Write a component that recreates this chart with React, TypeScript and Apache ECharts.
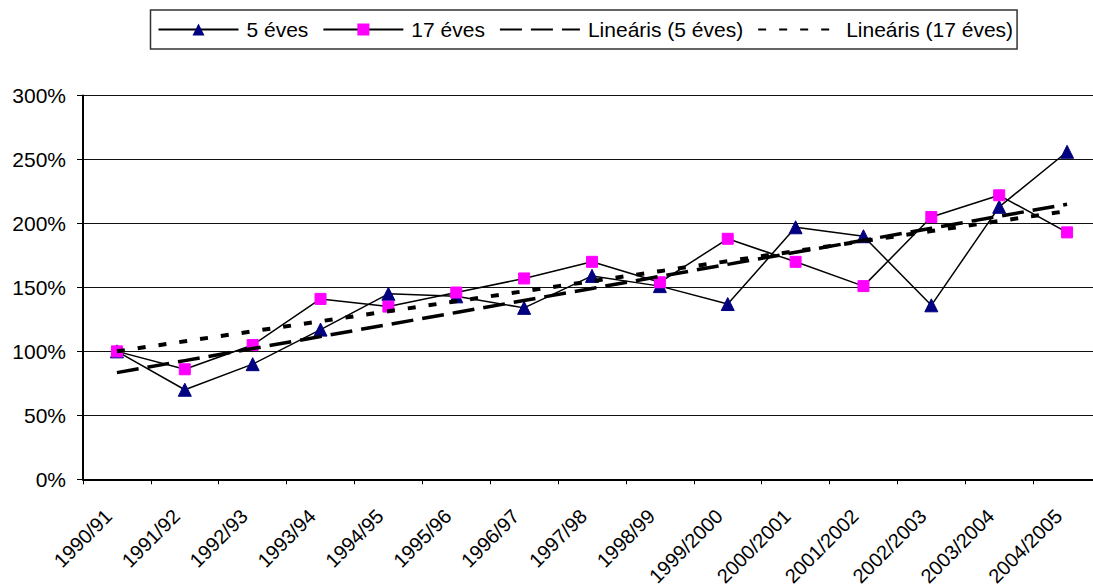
import React, { useEffect, useRef } from "react";
import * as echarts from "echarts";

// School years on the category axis
const categories = [
  "1990/91",
  "1991/92",
  "1992/93",
  "1993/94",
  "1994/95",
  "1995/96",
  "1996/97",
  "1997/98",
  "1998/99",
  "1999/2000",
  "2000/2001",
  "2001/2002",
  "2002/2003",
  "2003/2004",
  "2004/2005",
];

// Index values in percent (1990/91 = 100%)
const fiveYear = [100, 70, 90, 117, 145, 143, 134, 159, 151, 137, 197, 190, 136, 213, 256];
const seventeenYear = [100, 86, 105, 141, 135, 146, 157, 170, 154, 188, 170, 151, 205, 222, 193];

// Value axis ticks (percent)
const yTickValues = [0, 50, 100, 150, 200, 250, 300];

const seriesNames = ["5 éves", "17 éves", "Lineáris (5 éves)", "Lineáris (17 éves)"];

// Ordinary least-squares line over the category index
function linearTrend(values: number[]): number[] {
  const n = values.length;
  const meanX = (n - 1) / 2;
  const meanY = values.reduce((a, b) => a + b, 0) / n;
  let sxy = 0;
  let sxx = 0;
  values.forEach((v, i) => {
    sxy += (i - meanX) * (v - meanY);
    sxx += (i - meanX) * (i - meanX);
  });
  const slope = sxy / sxx;
  const intercept = meanY - slope * meanX;
  return values.map((_, i) => +(intercept + slope * i).toFixed(2));
}

const FONT = "'Liberation Sans', Arial, sans-serif";

export default function App() {
  const ref = useRef<HTMLDivElement>(null);

  useEffect(() => {
    if (!ref.current) return;
    const chart = echarts.init(ref.current, undefined, { renderer: "svg" });

    const option: any = {
      animation: false,
      backgroundColor: "#ffffff",
      textStyle: { fontFamily: FONT, color: "#000" },
      legend: {
        data: [
          { name: seriesNames[0] },
          { name: seriesNames[1] },
          // trend lines show only their stroke in the legend
          { name: seriesNames[2], itemStyle: { opacity: 0 } },
          { name: seriesNames[3], itemStyle: { opacity: 0 } },
        ],
        left: 150.5,
        top: 10,
        orient: "horizontal",
        itemWidth: 80,
        itemHeight: 15,
        itemGap: 14,
        padding: [9, 4, 9, 7],
        borderColor: "#333",
        borderWidth: 1.5,
        textStyle: {
          fontFamily: FONT,
          fontSize: 21,
          color: "#000",
          padding: [0, 0, 0, 3],
        },
      },
      grid: {
        left: 83,
        top: 95.5,
        right: -8,
        bottom: 108.7,
        containLabel: false,
        outerBoundsMode: "none",
      },
      xAxis: {
        type: "category",
        data: categories,
        boundaryGap: true,
        axisLine: { show: true, lineStyle: { color: "#000", width: 2 } },
        axisTick: { show: true, length: 5, lineStyle: { color: "#000", width: 1 } },
        axisLabel: {
          rotate: 45,
          interval: 0,
          margin: 25,
          padding: [0, 12, 0, 0],
          fontFamily: FONT,
          fontSize: 20,
          color: "#000",
        },
        splitLine: { show: false },
      },
      yAxis: {
        type: "value",
        min: yTickValues[0],
        max: yTickValues[yTickValues.length - 1],
        interval: yTickValues[1] - yTickValues[0],
        axisLine: { show: true, lineStyle: { color: "#000", width: 2 } },
        axisTick: { show: true, length: 6, lineStyle: { color: "#000", width: 1 } },
        axisLabel: {
          margin: 17,
          fontFamily: FONT,
          fontSize: 21,
          color: "#000",
          formatter: (v: number) => `${v}%`,
        },
        splitLine: { show: true, lineStyle: { color: "#111", width: 1 } },
      },
      series: [
        {
          name: seriesNames[0],
          type: "line",
          data: fiveYear,
          symbol: "triangle",
          symbolSize: [13, 13],
          lineStyle: { color: "#000", width: 1.5 },
          itemStyle: { color: "#000080", borderColor: "#000080" },
          z: 2,
        },
        {
          name: seriesNames[1],
          type: "line",
          data: seventeenYear,
          symbol: "rect",
          symbolSize: 11,
          lineStyle: { color: "#000", width: 1.5 },
          itemStyle: { color: "#ff00ff", borderColor: "#ff00ff" },
          z: 3,
        },
        {
          name: seriesNames[2],
          type: "line",
          data: linearTrend(fiveYear),
          symbol: "none",
          lineStyle: { color: "#000", width: 3.5, type: [22, 9], cap: "butt" },
          itemStyle: { color: "#000" },
          z: 4,
        },
        {
          name: seriesNames[3],
          type: "line",
          data: linearTrend(seventeenYear),
          symbol: "none",
          lineStyle: { color: "#000", width: 4, type: [8, 13], cap: "butt" },
          itemStyle: { color: "#000" },
          z: 5,
        },
      ],
    };

    chart.setOption(option);
    return () => chart.dispose();
  }, []);

  return (
    <div
      ref={ref}
      style={{ position: "absolute", left: 0, top: 0, width: 1093, height: 588, background: "#fff" }}
    />
  );
}
